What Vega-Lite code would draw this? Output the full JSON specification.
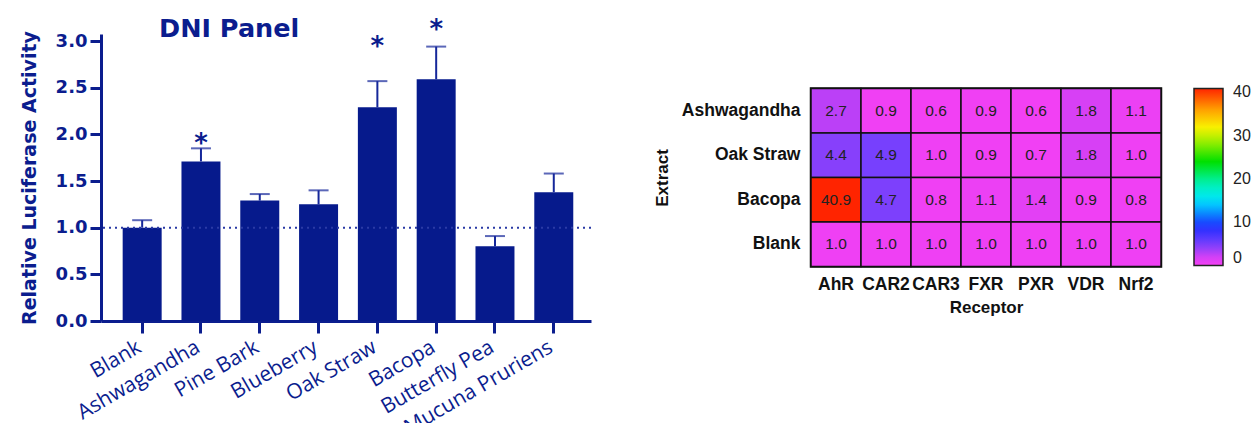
{
  "$schema": "https://vega.github.io/schema/vega-lite/v6.json",
  "background": "white",
  "padding": {"left": 20, "top": 16, "right": 5, "bottom": 0},
  "config": {"view": {"stroke": null}, "font": "Liberation Sans"},
  "spacing": 220,
  "bounds": "flush",
  "center": true,
  "hconcat": [
    {
      "width": 490,
      "height": 287,
      "title": {"text": "DNI Panel", "anchor": "start", "frame": "group", "dx": 58, "offset": -45, "font": "DejaVu Sans", "fontSize": 25.5, "fontWeight": "bold", "color": "#0b1d8e", "baseline": "alphabetic"},
      "data": {"values": [
        {"extract": "Blank", "value": 1.0, "upper": 1.08, "star": null},
        {"extract": "Ashwagandha", "value": 1.71, "upper": 1.85, "star": 1.97},
        {"extract": "Pine Bark", "value": 1.29, "upper": 1.36, "star": null},
        {"extract": "Blueberry", "value": 1.25, "upper": 1.40, "star": null},
        {"extract": "Oak Straw", "value": 2.29, "upper": 2.57, "star": 3.01},
        {"extract": "Bacopa", "value": 2.59, "upper": 2.94, "star": 3.19},
        {"extract": "Butterfly Pea", "value": 0.80, "upper": 0.91, "star": null},
        {"extract": "Mucuna Pruriens", "value": 1.38, "upper": 1.58, "star": null}
      ]},
      "layer": [
        {
          "mark": {"type": "bar", "color": "#061a8c"},
          "encoding": {
            "x": {"field": "extract", "type": "nominal", "sort": null, "title": null,
              "scale": {"paddingInner": 0.337, "paddingOuter": 0.335, "align": 0.55},
              "axis": {"labelAngle": -30, "labelAlign": "right", "labelBaseline": "top", "labelPadding": 3, "labelOffset": -8,
                "labelFont": "Open Sans", "labelFontSize": 21, "labelColor": "#0b1d8e",
                "domainColor": "#0b1d8e", "domainWidth": 3, "tickColor": "#0b1d8e", "tickWidth": 3, "tickSize": 12, "labelOverlap": false}},
            "y": {"field": "value", "type": "quantitative", "title": "Relative Luciferase Activity",
              "scale": {"domain": [0, 3.075], "nice": false, "zero": true},
              "axis": {"values": [0, 0.5, 1, 1.5, 2, 2.5, 3], "format": ".1f", "grid": false,
                "labelFont": "DejaVu Sans", "labelFontWeight": "bold", "labelFontSize": 18, "labelColor": "#0b1d8e", "labelPadding": 3,
                "titleFont": "DejaVu Sans", "titleFontWeight": "bold", "titleFontSize": 19, "titleColor": "#0b1d8e", "titlePadding": 16,
                "domainColor": "#0b1d8e", "domainWidth": 3, "tickColor": "#0b1d8e", "tickWidth": 3, "tickSize": 11}}
          }
        },
        {
          "mark": {"type": "rule", "color": "#15279a", "strokeWidth": 2},
          "encoding": {
            "x": {"field": "extract", "type": "nominal", "sort": null, "title": null},
            "y": {"field": "value", "type": "quantitative", "title": "Relative Luciferase Activity"},
            "y2": {"field": "upper"}
          }
        },
        {
          "mark": {"type": "tick", "orient": "horizontal", "color": "#15279a", "size": 20, "thickness": 2},
          "encoding": {
            "x": {"field": "extract", "type": "nominal", "sort": null, "title": null},
            "y": {"field": "upper", "type": "quantitative", "title": "Relative Luciferase Activity"}
          }
        },
        {
          "mark": {"type": "text", "text": "*", "font": "DejaVu Sans", "fontWeight": "bold", "fontSize": 26, "color": "#0b1d8e", "baseline": "middle", "dy": 7},
          "encoding": {
            "x": {"field": "extract", "type": "nominal", "sort": null, "title": null},
            "y": {"field": "star", "type": "quantitative", "title": "Relative Luciferase Activity"}
          }
        },
        {
          "data": {"values": [{"ref": 1.0}]},
          "mark": {"type": "rule", "color": "#2a3aa5", "strokeWidth": 2, "strokeDash": [2, 4]},
          "encoding": {
            "y": {"field": "ref", "type": "quantitative", "title": "Relative Luciferase Activity"}
          }
        }
      ]
    },
    {
      "width": 350,
      "height": 178,
      "view": {"stroke": "#111111", "strokeWidth": 2.5},
      "data": {"values": [
        {"extract": "Ashwagandha", "receptor": "AhR", "value": 2.7},
        {"extract": "Ashwagandha", "receptor": "CAR2", "value": 0.9},
        {"extract": "Ashwagandha", "receptor": "CAR3", "value": 0.6},
        {"extract": "Ashwagandha", "receptor": "FXR", "value": 0.9},
        {"extract": "Ashwagandha", "receptor": "PXR", "value": 0.6},
        {"extract": "Ashwagandha", "receptor": "VDR", "value": 1.8},
        {"extract": "Ashwagandha", "receptor": "Nrf2", "value": 1.1},
        {"extract": "Oak Straw", "receptor": "AhR", "value": 4.4},
        {"extract": "Oak Straw", "receptor": "CAR2", "value": 4.9},
        {"extract": "Oak Straw", "receptor": "CAR3", "value": 1.0},
        {"extract": "Oak Straw", "receptor": "FXR", "value": 0.9},
        {"extract": "Oak Straw", "receptor": "PXR", "value": 0.7},
        {"extract": "Oak Straw", "receptor": "VDR", "value": 1.8},
        {"extract": "Oak Straw", "receptor": "Nrf2", "value": 1.0},
        {"extract": "Bacopa", "receptor": "AhR", "value": 40.9},
        {"extract": "Bacopa", "receptor": "CAR2", "value": 4.7},
        {"extract": "Bacopa", "receptor": "CAR3", "value": 0.8},
        {"extract": "Bacopa", "receptor": "FXR", "value": 1.1},
        {"extract": "Bacopa", "receptor": "PXR", "value": 1.4},
        {"extract": "Bacopa", "receptor": "VDR", "value": 0.9},
        {"extract": "Bacopa", "receptor": "Nrf2", "value": 0.8},
        {"extract": "Blank", "receptor": "AhR", "value": 1.0},
        {"extract": "Blank", "receptor": "CAR2", "value": 1.0},
        {"extract": "Blank", "receptor": "CAR3", "value": 1.0},
        {"extract": "Blank", "receptor": "FXR", "value": 1.0},
        {"extract": "Blank", "receptor": "PXR", "value": 1.0},
        {"extract": "Blank", "receptor": "VDR", "value": 1.0},
        {"extract": "Blank", "receptor": "Nrf2", "value": 1.0}
      ]},
      "encoding": {
        "x": {"field": "receptor", "type": "nominal", "sort": ["AhR", "CAR2", "CAR3", "FXR", "PXR", "VDR", "Nrf2"],
          "scale": {"paddingInner": 0, "paddingOuter": 0},
          "axis": {"title": "Receptor", "orient": "bottom", "labelAngle": 0, "domain": false, "ticks": false, "labelPadding": 9,
            "labelFontSize": 17.5, "labelFontWeight": "bold", "labelColor": "#111111",
            "titleFontSize": 17, "titleFontWeight": "bold", "titleColor": "#111111", "titlePadding": 6}},
        "y": {"field": "extract", "type": "nominal", "sort": ["Ashwagandha", "Oak Straw", "Bacopa", "Blank"],
          "scale": {"paddingInner": 0, "paddingOuter": 0},
          "axis": {"title": "Extract", "domain": false, "ticks": false, "labelPadding": 11,
            "labelFontSize": 17.5, "labelFontWeight": "bold", "labelColor": "#111111",
            "titleFontSize": 17, "titleFontWeight": "bold", "titleColor": "#111111", "titlePadding": 10}}
      },
      "layer": [
        {
          "mark": {"type": "rect", "stroke": "#111111", "strokeWidth": 1.5},
          "encoding": {
            "color": {"field": "value", "type": "quantitative",
              "scale": {"domain": [0, 1, 3, 5, 9, 12, 15, 19, 24, 29, 32, 36, 40.9],
                "range": ["#f640f4", "#ef40f4", "#b240f7", "#7440fd", "#1f2cff", "#0a88ff", "#00e4ff", "#00f2b0", "#00e000", "#a8f000", "#f8f000", "#ffa000", "#ff2400"],
                "interpolate": "rgb"},
              "legend": {"title": null, "values": [0, 10, 20, 30, 40], "orient": "none", "legendX": 1093, "legendY": 54.5, "direction": "vertical",
                "gradientLength": 177, "gradientThickness": 29, "gradientStrokeColor": "#222222", "gradientStrokeWidth": 1.5,
                "labelOffset": 10, "labelFontSize": 16, "labelColor": "#222222"}}
          }
        },
        {
          "mark": {"type": "text", "fontSize": 15.5, "color": "#222222"},
          "encoding": {
            "text": {"field": "value", "type": "quantitative", "format": ".1f"}
          }
        }
      ]
    }
  ]
}
